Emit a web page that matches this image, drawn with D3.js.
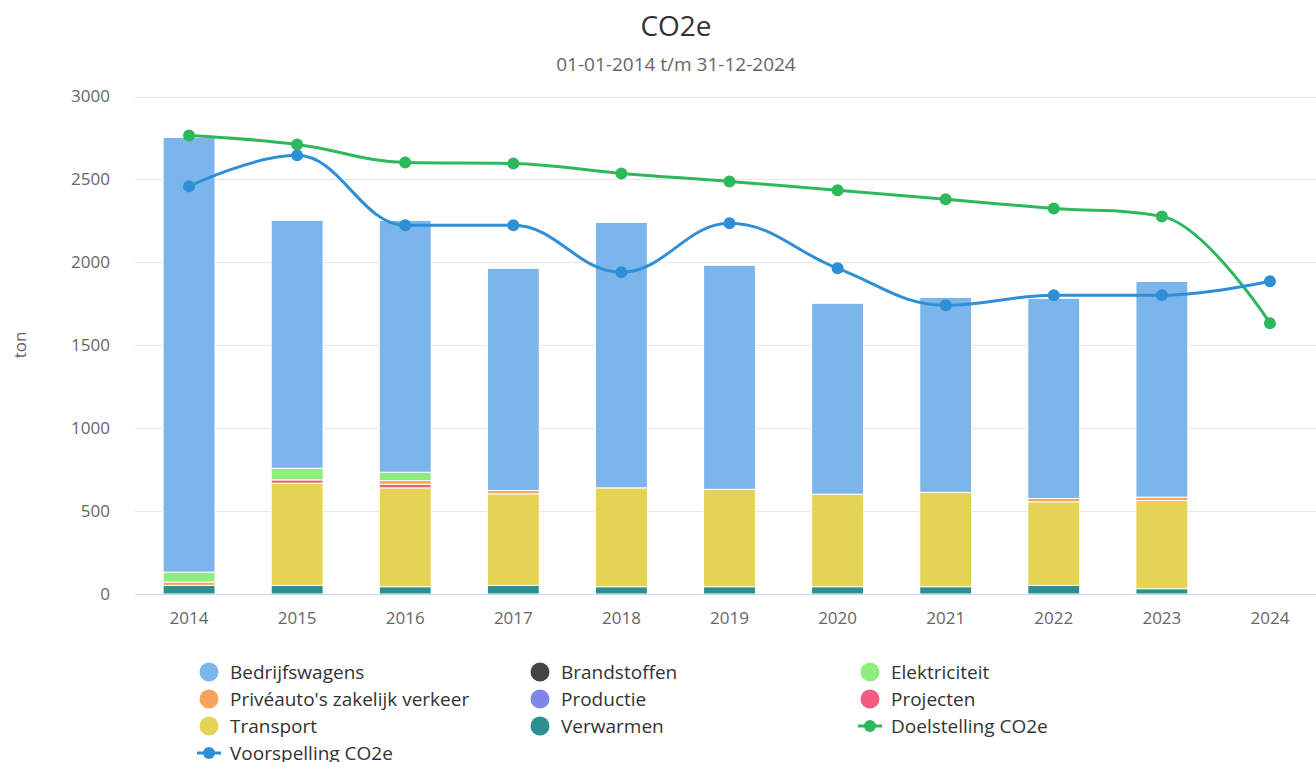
<!DOCTYPE html>
<html>
<head>
<meta charset="utf-8">
<script src="https://cdn.jsdelivr.net/npm/d3@7"></script>
<style>
  html, body { margin: 0; padding: 0; background: #fff; }
  svg { display: block; font-family: "Open Sans", "DejaVu Sans", sans-serif; }
</style>
</head>
<body>
<svg id="chart" width="1316" height="762"></svg>
<script>
// ---------- DATA ----------
const years = ["2014","2015","2016","2017","2018","2019","2020","2021","2022","2023","2024"];
const yTicks = [0, 500, 1000, 1500, 2000, 2500, 3000];

const bedrijfswagens = [2621, 1495, 1519, 1340, 1601, 1351, 1151, 1176, 1207, 1301, 0];
const brandstoffen   = [0, 0, 0, 0, 0, 0, 0, 0, 0, 0, 0];
const elektriciteit  = [60, 70, 50, 0, 0, 0, 0, 0, 0, 0, 0];
const priveautos     = [20, 0, 22, 20, 0, 0, 0, 0, 20, 20, 0];
const productie      = [0, 0, 0, 0, 0, 0, 0, 0, 0, 0, 0];
const projecten      = [0, 20, 22, 0, 0, 0, 0, 0, 0, 0, 0];
const transport      = [0, 616, 596, 552, 596, 587, 558, 569, 504, 532, 0];
const verwarmen      = [52, 52, 44, 52, 44, 44, 44, 44, 52, 32, 0];

const doelstelling   = [2765, 2711, 2602, 2596, 2536, 2488, 2434, 2380, 2325, 2277, 1633];
const voorspelling   = [2458, 2645, 2223, 2223, 1940, 2235, 1964, 1741, 1801, 1801, 1886];

const barSeries = [
  { name: "Bedrijfswagens", values: bedrijfswagens, color: "#7cb5ec" },
  { name: "Brandstoffen", values: brandstoffen, color: "#434348" },
  { name: "Elektriciteit", values: elektriciteit, color: "#90ed7d" },
  { name: "Privéauto's zakelijk verkeer", values: priveautos, color: "#f7a35c" },
  { name: "Productie", values: productie, color: "#8085e9" },
  { name: "Projecten", values: projecten, color: "#f15c80" },
  { name: "Transport", values: transport, color: "#e4d354" },
  { name: "Verwarmen", values: verwarmen, color: "#2b908f" }
];
const lineSeries = [
  { name: "Doelstelling CO2e", values: doelstelling, color: "#2eb85c" },
  { name: "Voorspelling CO2e", values: voorspelling, color: "#2f8fd6" }
];

// ---------- LAYOUT ----------
const svg = d3.select("#chart");
const plotLeft = 135, plotRight = 1324, plotTop = 96.5, plotBottom = 594;

const x = d3.scaleBand().domain(years).range([plotLeft, plotRight]).padding(0);
const y = d3.scaleLinear().domain([0, 3000]).range([plotBottom, plotTop]);
const barW = x.bandwidth() * 0.48;

// Title
svg.append("text").attr("x", 676).attr("y", 36).attr("text-anchor", "middle")
  .attr("font-size", 28).attr("fill", "#333333").text("CO2e");
svg.append("text").attr("x", 676).attr("y", 71).attr("text-anchor", "middle")
  .attr("font-size", 19).attr("fill", "#666666").text("01-01-2014 t/m 31-12-2024");

// Grid
svg.append("g").selectAll("line").data(yTicks.filter(d => d > 0)).join("line")
  .attr("x1", plotLeft).attr("x2", plotRight)
  .attr("y1", d => Math.round(y(d)) + 0.5).attr("y2", d => Math.round(y(d)) + 0.5)
  .attr("stroke", "#e6e6e6").attr("stroke-width", 1);

// Y axis labels
const yAxis = d3.axisLeft(y).tickValues(yTicks).tickFormat(d3.format("d")).tickSize(0).tickPadding(0);
const yg = svg.append("g").attr("transform", `translate(110,0)`).call(yAxis);
yg.select(".domain").remove();
yg.selectAll("text").attr("font-size", 17).attr("fill", "#666666")
  .attr("font-family", "Open Sans").attr("dy", "0.32em");

svg.append("text").attr("transform", "translate(26,345) rotate(-90)")
  .attr("text-anchor", "middle").attr("font-size", 17).attr("fill", "#666666").text("ton");

// Stacked bars (first series on top)
const stackKeys = barSeries.map(s => s.name).slice().reverse();
const rows = years.map((yr, i) => {
  const r = { year: yr };
  barSeries.forEach(s => r[s.name] = s.values[i]);
  return r;
});
const stacked = d3.stack().keys(stackKeys)(rows);
const colorOf = Object.fromEntries(barSeries.map(s => [s.name, s.color]));

svg.append("g").selectAll("g").data(stacked).join("g")
  .attr("fill", d => colorOf[d.key])
  .selectAll("rect").data(d => d.filter(p => p[1] - p[0] > 0)).join("rect")
  .attr("x", d => x(d.data.year) + (x.bandwidth() - barW) / 2)
  .attr("y", d => y(d[1]))
  .attr("width", barW)
  .attr("height", d => y(d[0]) - y(d[1]))
  .attr("stroke", "#ffffff").attr("stroke-width", 1);

// X axis
const xAxis = d3.axisBottom(x).tickSize(0).tickPadding(0);
const xg = svg.append("g").attr("transform", `translate(0,${plotBottom})`).call(xAxis);
xg.select(".domain").remove();
xg.selectAll("text").attr("font-size", 17).attr("fill", "#666666")
  .attr("font-family", "Open Sans").attr("y", 30).attr("dy", 0);
svg.append("line").attr("x1", plotLeft).attr("x2", plotRight)
  .attr("y1", plotBottom + 0.5).attr("y2", plotBottom + 0.5)
  .attr("stroke", "#ccd6eb").attr("stroke-width", 1);

// Highcharts-like spline path
function splinePath(pts) {
  const sm = 1.5, den = sm + 1;
  const ctrl = pts.map(() => ({}));
  for (let i = 1; i < pts.length - 1; i++) {
    const [lx, ly] = pts[i - 1], [px, py] = pts[i], [nx, ny] = pts[i + 1];
    let lcx = (sm * px + lx) / den, lcy = (sm * py + ly) / den;
    let rcx = (sm * px + nx) / den, rcy = (sm * py + ny) / den;
    let corr = 0;
    if (rcx !== lcx) corr = ((rcy - lcy) * (rcx - px)) / (rcx - lcx) + py - rcy;
    lcy += corr; rcy += corr;
    if (lcy > ly && lcy > py) { lcy = Math.max(ly, py); rcy = 2 * py - lcy; }
    else if (lcy < ly && lcy < py) { lcy = Math.min(ly, py); rcy = 2 * py - lcy; }
    if (rcy > ny && rcy > py) { rcy = Math.max(ny, py); lcy = 2 * py - rcy; }
    else if (rcy < ny && rcy < py) { rcy = Math.min(ny, py); lcy = 2 * py - rcy; }
    ctrl[i] = { lcx, lcy, rcx, rcy };
  }
  const p = d3.path();
  p.moveTo(pts[0][0], pts[0][1]);
  for (let i = 1; i < pts.length; i++) {
    const a = ctrl[i - 1], b = ctrl[i];
    const c1x = a.rcx !== undefined ? a.rcx : pts[i - 1][0];
    const c1y = a.rcy !== undefined ? a.rcy : pts[i - 1][1];
    const c2x = b.lcx !== undefined ? b.lcx : pts[i][0];
    const c2y = b.lcy !== undefined ? b.lcy : pts[i][1];
    p.bezierCurveTo(c1x, c1y, c2x, c2y, pts[i][0], pts[i][1]);
  }
  return p.toString();
}

const cx = yr => x(yr) + x.bandwidth() / 2;
lineSeries.forEach(s => {
  const pts = years.map((yr, i) => [cx(yr), y(s.values[i])]);
  const g = svg.append("g");
  g.append("path").attr("d", splinePath(pts)).attr("fill", "none")
    .attr("stroke", s.color).attr("stroke-width", 3).attr("stroke-linecap", "round");
  g.selectAll("circle").data(pts).join("circle")
    .attr("cx", d => d[0]).attr("cy", d => d[1]).attr("r", 6).attr("fill", s.color);
});

// Legend
const legendItems = barSeries.map(s => ({ name: s.name, color: s.color, type: "bar" }))
  .concat(lineSeries.map(s => ({ name: s.name, color: s.color, type: "line" })));
const colX = [209, 540, 870], rowY0 = 672, rowH = 27;
const lg = svg.append("g").selectAll("g").data(legendItems).join("g")
  .attr("transform", (d, i) => `translate(${colX[i % 3]},${rowY0 + Math.floor(i / 3) * rowH})`);
lg.each(function(d) {
  const g = d3.select(this);
  if (d.type === "bar") {
    g.append("circle").attr("r", 9.5).attr("fill", d.color);
  } else {
    g.append("line").attr("x1", -12).attr("x2", 12).attr("stroke", d.color).attr("stroke-width", 3);
    g.append("circle").attr("r", 6).attr("fill", d.color);
  }
  g.append("text").attr("x", 21).attr("dy", "0.35em").attr("font-size", 19)
    .attr("fill", "#333333").text(d.name);
});
</script>
</body>
</html>
